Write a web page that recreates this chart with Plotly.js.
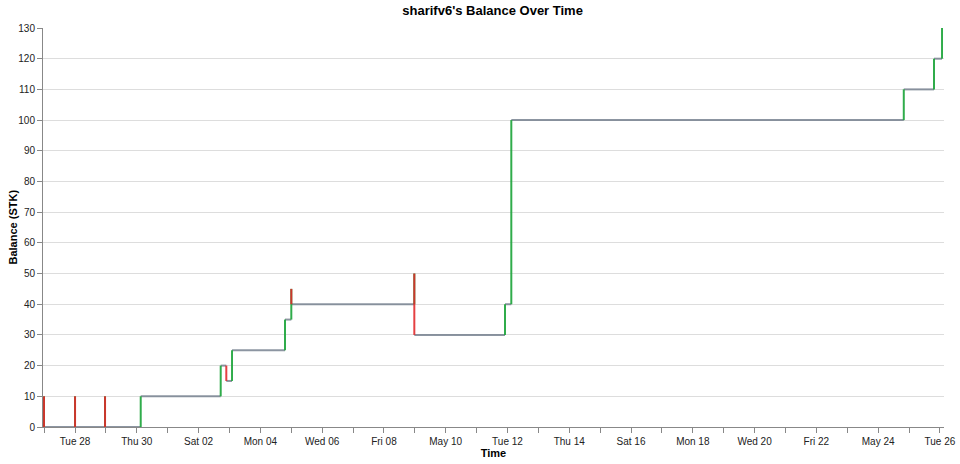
<!DOCTYPE html>
<html>
<head>
<meta charset="utf-8">
<script src="https://cdn.plot.ly/plotly-3.0.1.min.js"></script>
<style>html,body{margin:0;padding:0;background:#fff;}#chart{width:960px;height:464px;}</style>
</head>
<body>
<div id="chart"></div>
<script>
// Transaction times and balance after each transaction (STK)
const startBalance = 0;
const txTimes = [
  "2020-04-26 23:55", "2020-04-26 23:56",
  "2020-04-28 00:01", "2020-04-28 00:02",
  "2020-04-28 23:19", "2020-04-28 23:20",
  "2020-04-30 03:03",
  "2020-05-02 17:12", "2020-05-02 21:33",
  "2020-05-03 02:00",
  "2020-05-04 19:09",
  "2020-05-05 00:03", "2020-05-05 00:04",
  "2020-05-08 23:37", "2020-05-08 23:38",
  "2020-05-11 22:05",
  "2020-05-12 02:59",
  "2020-05-24 19:55",
  "2020-05-25 19:24",
  "2020-05-26 01:38"
];
const balances = [
  10, 0,
  10, 0,
  10, 0,
  10,
  20, 15,
  25,
  35,
  45, 40,
  50, 30,
  40,
  100,
  110,
  120,
  130
];
const tickDates = ["2020-04-28","2020-04-30","2020-05-02","2020-05-04","2020-05-06","2020-05-08","2020-05-10","2020-05-12","2020-05-14","2020-05-16","2020-05-18","2020-05-20","2020-05-22","2020-05-24","2020-05-26"];
const tickLabels = ["Tue 28","Thu 30","Sat 02","Mon 04","Wed 06","Fri 08","May 10","Tue 12","Thu 14","Sat 16","Mon 18","Wed 20","Fri 22","May 24","Tue 26"];
const xRange = ["2020-04-26 23:08", "2020-05-26 03:10"];

// build horizontal (grey) segments and vertical (green/red) segments
const gx = [], gy = [];
const upX = [], upY = [], dnX = [], dnY = [];
for (let i = 0; i < txTimes.length; i++) {
  const prev = i === 0 ? startBalance : balances[i - 1];
  const cur = balances[i];
  const next = i + 1 < txTimes.length ? txTimes[i + 1] : txTimes[i];
  gx.push(txTimes[i], next, null); gy.push(cur, cur, null);
  if (cur >= prev) { upX.push(txTimes[i], txTimes[i], null); upY.push(prev, cur, null); }
  else { dnX.push(txTimes[i], txTimes[i], null); dnY.push(prev, cur, null); }
}

const traces = [
  {x: gx, y: gy, mode: "lines", line: {color: "rgba(120,131,145,0.85)", width: 2}, hoverinfo: "skip", showlegend: false},
  {x: upX, y: upY, mode: "lines", line: {color: "rgba(30,165,60,0.92)", width: 2}, hoverinfo: "skip", showlegend: false},
  {x: dnX, y: dnY, mode: "lines", line: {color: "rgba(225,38,40,0.88)", width: 2}, hoverinfo: "skip", showlegend: false}
];

const font = {family: "Liberation Sans, Arial, sans-serif", color: "#222", size: 10};
const layout = {
  width: 960, height: 464,
  margin: {l: 43, r: 16, t: 28, b: 37},
  paper_bgcolor: "#fff", plot_bgcolor: "#fff",
  font: font,
  showlegend: false,
  title: {text: "<b>sharifv6's Balance Over Time</b>", x: 0.499, xref: "paper", y: 0.978, yref: "container", yanchor: "middle",
          font: {family: "Liberation Sans, Arial, sans-serif", size: 13, color: "#000"}},
  xaxis: {
    type: "date", range: xRange,
    tickvals: tickDates, ticktext: tickLabels,
    ticks: "outside", ticklen: 5, tickcolor: "#888", tickwidth: 1,
    minor: {dtick: 86400000, tick0: "2020-04-28", ticks: "outside", ticklen: 5, tickcolor: "#888", showgrid: false},
    showline: true, linecolor: "#888", linewidth: 1,
    showgrid: false, zeroline: false,
    tickfont: {size: 10, color: "#222"},
    title: {text: "<b>Time</b>", font: {size: 11, color: "#000"}, standoff: 3}
  },
  yaxis: {
    range: [0, 130], dtick: 10, tick0: 0,
    ticks: "outside", ticklen: 5, tickcolor: "#888", tickwidth: 1,
    showline: true, linecolor: "#888", linewidth: 1,
    showgrid: true, gridcolor: "#ddd", gridwidth: 1, zeroline: false,
    tickfont: {size: 10, color: "#222"}
  },
  annotations: [{
    text: "<b>Balance (STK)</b>", textangle: -90, showarrow: false,
    xref: "paper", yref: "paper", x: -31 / 901, y: 0.5, xanchor: "center", yanchor: "middle",
    font: {family: "Liberation Sans, Arial, sans-serif", size: 11, color: "#000"}
  }]
};
Plotly.newPlot("chart", traces, layout, {displayModeBar: false, staticPlot: true});
</script>
</body>
</html>
